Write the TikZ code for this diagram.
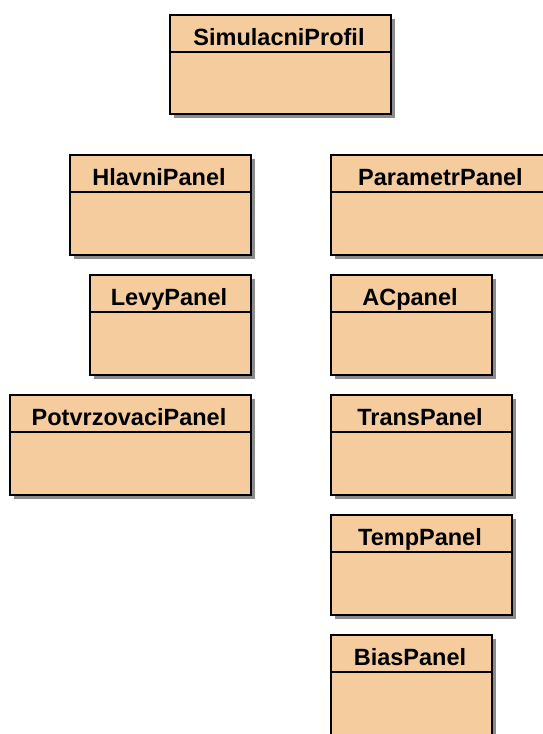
\documentclass[tikz,border=0pt]{standalone}
\usepackage{fontspec}
\setmainfont{Liberation Sans}
\definecolor{classfill}{HTML}{F5CC9E}
\definecolor{shadowc}{HTML}{8C8C8C}
\tikzset{
  classbox/.style={draw=black, line width=1.4pt, fill=classfill, rectangle,
    inner sep=0pt, outer sep=0pt},
  classshadow/.style={fill=shadowc},
  headline/.style={draw=black, line width=1.2pt},
  titletext/.style={font=\bfseries\fontsize{23.5}{25}\selectfont, anchor=base,
    inner sep=0pt},
}
% class box: name, left x, top y, width, height, title
\newcommand\umlclass[6]{%
  \fill[classshadow] (#2+4,#3+4) rectangle ++(#4,#5);
  \node[classbox, minimum width=#4pt, minimum height=#5pt, anchor=north west]
    (#1) at (#2,#3) {};
  \draw[headline] ([yshift=-37pt]#1.north west) -- ([yshift=-37pt]#1.north east);
  \node[titletext] (#1title) at ([xshift=-1.5pt,yshift=-30pt]#1.north) {#6};
}
\begin{document}
\begin{tikzpicture}[x=1pt,y=-1pt]
  \fill[white] (0,0) rectangle (543,734);
  \useasboundingbox (0,0) rectangle (543,734);
  \clip (0,0) rectangle (543,734);
  \umlclass{sim}{170}{15}{221}{99}{SimulacniProfil}
  \umlclass{hlavni}{70}{155}{181}{100}{HlavniPanel}
  \umlclass{levy}{90}{275}{161}{100}{LevyPanel}
  \umlclass{potvrz}{10}{395}{241}{100}{PotvrzovaciPanel}
  \umlclass{param}{331}{155}{222}{100}{ParametrPanel}
  \umlclass{ac}{331}{275}{161}{100}{ACpanel}
  \umlclass{trans}{331}{395}{181}{100}{TransPanel}
  \umlclass{temp}{331}{515}{181}{100}{TempPanel}
  \umlclass{bias}{331}{635}{161}{110}{BiasPanel}
\end{tikzpicture}
\end{document}
